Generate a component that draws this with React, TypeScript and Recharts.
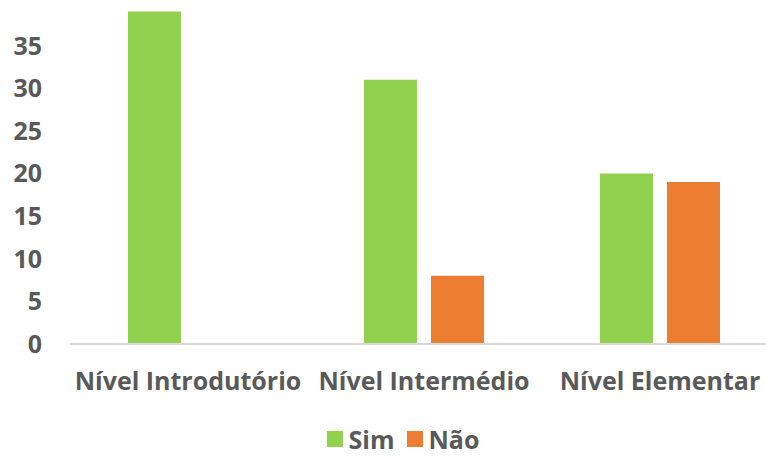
import React from "react"
import { BarChart, Bar, XAxis, YAxis, Legend } from "recharts"

const categories = ["Nível Introdutório", "Nível Intermédio", "Nível Elementar"]
const simValues = [39, 31, 20]
const naoValues = [0, 8, 19]
const yTicks = [0, 5, 10, 15, 20, 25, 30, 35]

const seriesInfo = [
  { key: "sim", label: "Sim", color: "#92D050" },
  { key: "nao", label: "Não", color: "#ED7D31" }
]

const chartData = categories.map((name, i) => ({
  name,
  sim: simValues[i],
  nao: naoValues[i]
}))

const textColor = "#595959"
const font = "'Open Sans', sans-serif"

const LegendBox = () => (
  <div
    style={{
      height: 38,
      boxSizing: "border-box",
      paddingTop: 2,
      display: "flex",
      justifyContent: "center",
      alignItems: "center",
      fontFamily: font,
      fontWeight: 700,
      fontSize: 25,
      lineHeight: "34px",
      color: textColor,
      paddingLeft: 40
    }}
  >
    {seriesInfo.map((s) => (
      <span key={s.key} style={{ display: "flex", alignItems: "center", marginRight: 12 }}>
        <span style={{ width: 16, height: 16, background: s.color, marginRight: 6 }} />
        {s.label}
      </span>
    ))}
  </div>
)

export default function App() {
  return (
    <div style={{ position: "absolute", left: 0, top: 0, width: 766, height: 457, overflow: "hidden", background: "#fff" }}>
      <BarChart
        width={790}
        height={457}
        data={chartData}
        margin={{ top: 3, right: 12, left: 0, bottom: 0 }}
        barGap={14}
        barSize={53}
      >
        <XAxis
          dataKey="name"
          height={75}
          tickLine={false}
          tickSize={0}
          tickMargin={28}
          axisLine={{ stroke: "#D9D9D9", strokeWidth: 2 }}
          tick={{ fill: textColor, fontSize: 25, fontWeight: 700, fontFamily: font }}
          interval={0}
        />
        <YAxis
          width={70}
          domain={[0, 40]}
          ticks={yTicks}
          axisLine={false}
          tickLine={false}
          tickSize={0}
          tickMargin={28}
          tick={{ fill: textColor, fontSize: 25, fontWeight: 700, fontFamily: font }}
        />
        <Legend verticalAlign="bottom" content={<LegendBox />} />
        {seriesInfo.map((s) => (
          <Bar key={s.key} dataKey={s.key} name={s.label} fill={s.color} isAnimationActive={false} />
        ))}
      </BarChart>
    </div>
  )
}
